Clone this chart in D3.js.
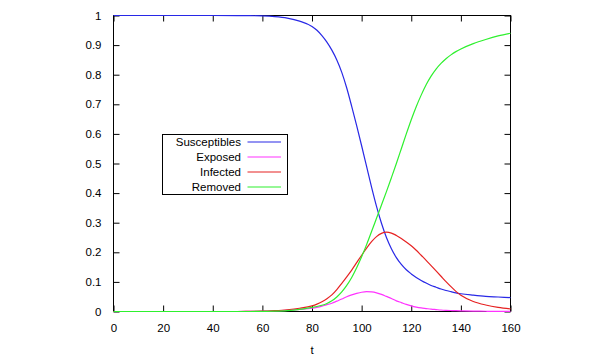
<!DOCTYPE html>
<html>
<head>
<meta charset="utf-8">
<script src="https://cdn.jsdelivr.net/npm/d3@7"></script>
<style>
  html, body { margin: 0; padding: 0; background: #fff; }
  svg { display: block; }
  text { font-family: "Liberation Sans", Arial, sans-serif; font-size: 11.5px; fill: #000; }
</style>
</head>
<body>
<svg id="chart" width="600" height="360"></svg>
<script>
// ---- data ----
const tValues = [0,10,20,30,40,50,55,60,65,70,75,
  80,82,84,86,88,90,92,94,96,98,100,102,104,106,108,110,112,114,116,118,120,122,124,126,128,130,132,134,136,138,140,
  145,150,155,160];
const susceptibles = [1,1,1,1,1,0.9998,0.9995,0.9985,0.996,0.991,0.981,
  0.963,0.95,0.932,0.91,0.883,0.85,0.808,0.755,0.693,0.628,0.56,0.49,0.42,0.355,0.298,0.25,0.212,0.182,0.159,0.141,0.127,0.115,0.105,0.096,0.088,0.082,0.076,0.071,0.067,0.063,0.06,
  0.055,0.051,0.049,0.047];
const exposed = [0,0,0,0,0,0,0.0005,0.001,0.002,0.004,0.007,
  0.011,0.014,0.018,0.023,0.028,0.035,0.042,0.05,0.056,0.061,0.065,0.067,0.066,0.063,0.058,0.051,0.044,0.036,0.03,0.024,0.019,0.015,0.012,0.01,0.008,0.0065,0.005,0.004,0.0033,0.0027,0.0022,
  0.0013,0.0008,0.0005,0.0003];
const infected = [0,0,0,0,0,0,0.0005,0.001,0.003,0.006,0.011,
  0.019,0.025,0.033,0.043,0.056,0.074,0.095,0.117,0.14,0.165,0.19,0.214,0.236,0.253,0.264,0.268,0.265,0.257,0.247,0.235,0.222,0.207,0.19,0.173,0.155,0.137,0.119,0.101,0.084,0.068,0.055,
  0.034,0.022,0.014,0.009];
const removed = [0,0,0,0,0,0,0,0.0005,0.0012,0.003,0.007,
  0.014,0.017,0.021,0.027,0.036,0.049,0.066,0.088,0.115,0.148,0.185,0.226,0.27,0.315,0.36,0.405,0.452,0.5,0.55,0.6,0.648,0.692,0.731,0.766,0.795,0.819,0.838,0.854,0.867,0.878,0.887,
  0.905,0.919,0.931,0.94];
const seriesNames = ["Susceptibles","Exposed","Infected","Removed"];
const seriesColors = ["#2828e6","#ff33ff","#e62222","#2ef02e"];
const xTicks = [0,20,40,60,80,100,120,140,160];
const yTicks = [0,0.1,0.2,0.3,0.4,0.5,0.6,0.7,0.8,0.9,1];
const xLabel = "t";

// ---- layout ----
const L = 113.5, R = 510.5, T = 15.5, B = 311.5;
const svg = d3.select("#chart");
const x = d3.scaleLinear().domain([0,160]).range([L,R]);
const y = d3.scaleLinear().domain([0,1]).range([B,T]);

const allSeries = [susceptibles, exposed, infected, removed];

// border
svg.append("rect").attr("x",L).attr("y",T).attr("width",R-L).attr("height",B-T)
  .attr("fill","none").attr("stroke","#000").attr("stroke-width",1);

const tickLen = 6;
const xAxisB = d3.axisBottom(x).tickValues(xTicks).tickSizeInner(-tickLen).tickSizeOuter(0).tickPadding(12).tickFormat(d3.format("d"));
const gxb = svg.append("g").attr("transform",`translate(0,${B})`).call(xAxisB);
const xAxisT = d3.axisTop(x).tickValues(xTicks).tickSizeInner(-tickLen).tickSizeOuter(0).tickFormat("");
const gxt = svg.append("g").attr("transform",`translate(0,${T})`).call(xAxisT);
const yAxisL = d3.axisLeft(y).tickValues(yTicks).tickSizeInner(-tickLen).tickSizeOuter(0).tickPadding(12).tickFormat(d => d === 0 ? "0" : d === 1 ? "1" : d3.format(".1f")(d));
const gyl = svg.append("g").attr("transform",`translate(${L},0)`).call(yAxisL);
const yAxisR = d3.axisRight(y).tickValues(yTicks).tickSizeInner(-tickLen).tickSizeOuter(0).tickFormat("");
const gyr = svg.append("g").attr("transform",`translate(${R},0)`).call(yAxisR);

[gxb,gxt,gyl,gyr].forEach(g => {
  g.select(".domain").remove();
  g.selectAll(".tick line").attr("stroke","#000");
  g.selectAll("text").attr("font-family",null).attr("font-size",null).attr("fill","#000");
});

svg.append("text").attr("x",(L+R)/2).attr("y",354).attr("text-anchor","middle").text(xLabel);

// lines
const line = d3.line().curve(d3.curveMonotoneX);
allSeries.forEach((vals,i) => {
  const pts = tValues.map((t,j) => [x(t), y(vals[j])]);
  svg.append("path").attr("d", line(pts)).attr("fill","none")
    .attr("stroke", seriesColors[i]).attr("stroke-width",1.2);
});

// legend
const lg = svg.append("g");
lg.append("rect").attr("x",162.5).attr("y",134.5).attr("width",125).attr("height",60)
  .attr("fill","#fff").attr("stroke","#000").attr("stroke-width",1);
const rowY = [142,157,172,187];
seriesNames.forEach((n,i) => {
  lg.append("text").attr("x",241).attr("y",rowY[i]).attr("dy","0.35em").attr("text-anchor","end").text(n);
  lg.append("line").attr("x1",247.5).attr("x2",281).attr("y1",rowY[i]).attr("y2",rowY[i])
    .attr("stroke",seriesColors[i]).attr("stroke-width",1.2);
});
</script>
</body>
</html>
